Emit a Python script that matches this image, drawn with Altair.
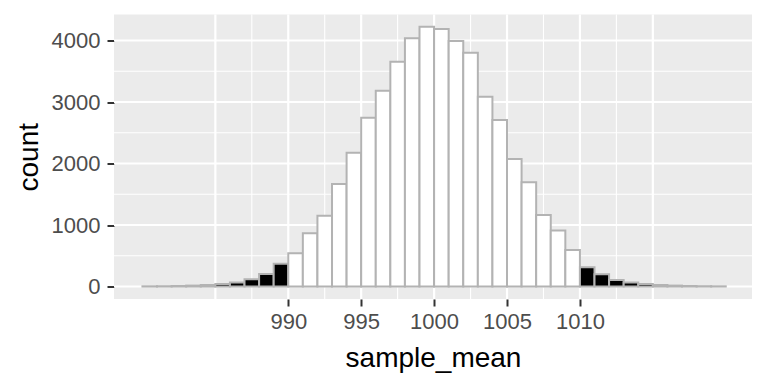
import altair as alt
import pandas as pd

# ---- data ----
bin_start = list(range(980, 1020))          # histogram bins, width 1
counts = [3, 5, 8, 15, 25, 40, 65, 117, 205, 370,
          540, 865, 1151, 1667, 2176, 2745, 3184, 3656, 4035, 4225,
          4187, 3992, 3802, 3087, 2707, 2073, 1694, 1163, 910, 593,
          315, 200, 105, 65, 40, 25, 15, 8, 5, 3]
bin_width = 1
lower_cut, upper_cut = 990, 1010            # shaded tails

x_ticks = [990, 995, 1000, 1005, 1010]
y_ticks = [0, 1000, 2000, 3000, 4000]
x_major_grid = [985, 990, 995, 1000, 1005, 1010, 1015]
x_minor_grid = [987.5, 992.5, 997.5, 1002.5, 1007.5, 1012.5]
y_major_grid = [0, 1000, 2000, 3000, 4000]
y_minor_grid = [500, 1500, 2500, 3500]

x_domain = [978.05, 1021.8]
y_domain = [-203, 4423]

df = pd.DataFrame({"bin_start": bin_start, "count": counts})
df["bin_end"] = df["bin_start"] + bin_width

xs = alt.Scale(domain=x_domain, nice=False, zero=False)
ys = alt.Scale(domain=y_domain, nice=False, zero=False)

FONT = "Liberation Sans"

def vgrid(vals, w):
    return alt.Chart(pd.DataFrame({"v": vals})).mark_rule(
        color="white", strokeWidth=w).encode(x=alt.X("v:Q", scale=xs, axis=None))

def hgrid(vals, w):
    return alt.Chart(pd.DataFrame({"v": vals})).mark_rule(
        color="white", strokeWidth=w).encode(y=alt.Y("v:Q", scale=ys, axis=None))

bars = alt.Chart(df).mark_rect(stroke="#B3B3B3", strokeWidth=2).encode(
    x=alt.X("bin_start:Q", scale=xs,
            axis=alt.Axis(title="sample_mean", values=x_ticks, grid=False,
                          format="d",
                          domain=False, tickColor="#333333", tickWidth=2,
                          tickSize=7, labelFontSize=22, labelColor="#4D4D4D",
                          labelFont=FONT, labelPadding=5, titleFont=FONT,
                          titleFontSize=28, titleFontWeight="normal",
                          titleColor="black", titlePadding=12,
                          labelFlush=False)),
    x2="bin_end:Q",
    y=alt.Y("count:Q", scale=ys,
            axis=alt.Axis(title="count", values=y_ticks, grid=False,
                          format="d",
                          domain=False, tickColor="#333333", tickWidth=2,
                          tickSize=7, labelFontSize=22, labelColor="#4D4D4D",
                          labelFont=FONT, labelPadding=7, titleFont=FONT,
                          titleFontSize=28, titleFontWeight="normal",
                          titleColor="black", titlePadding=8,
                          labelFlush=False)),
    y2=alt.datum(0),
    fill=alt.condition(
        f"datum.bin_start < {lower_cut} || datum.bin_start >= {upper_cut}",
        alt.value("black"), alt.value("white")),
)

chart = alt.layer(
    vgrid(x_minor_grid, 1.1), hgrid(y_minor_grid, 1.1),
    vgrid(x_major_grid, 2.2), hgrid(y_major_grid, 2.2),
    bars,
).resolve_axis(x="independent", y="independent").properties(
    width=638, height=284.5,
    autosize=alt.AutoSizeParams(type="none"),
    padding={"left": 106, "top": 6.5, "right": 8, "bottom": 77},
).configure_view(fill="#EBEBEB", stroke=None)

chart.save("out.html", embed_options={"renderer": "svg", "actions": False})
